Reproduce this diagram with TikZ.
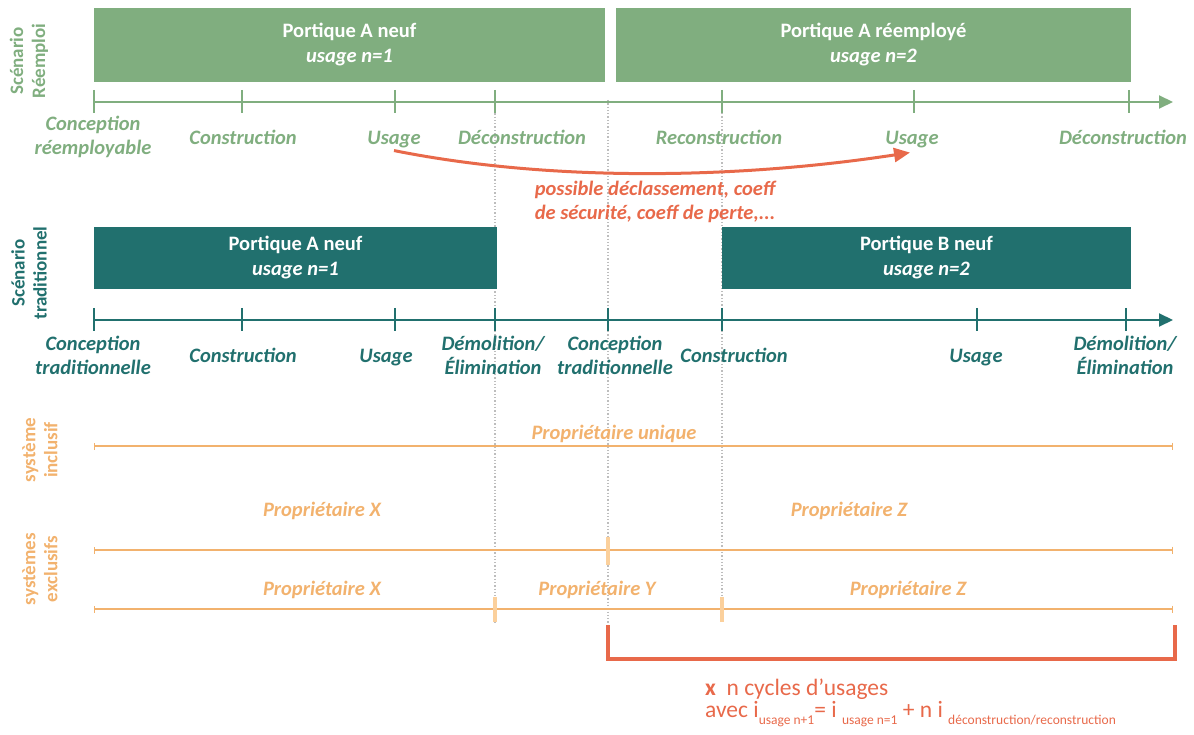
\documentclass[tikz,border=0pt]{standalone}
\usepackage{fontspec}
\setmainfont{Carlito}
\usetikzlibrary{positioning,arrows.meta,calc}

\definecolor{vertR}{HTML}{80AE7F}
\definecolor{tealT}{HTML}{21706E}
\definecolor{corail}{HTML}{E8694A}
\definecolor{orangeP}{HTML}{F2B26E}
\definecolor{orangeC}{HTML}{FBD09C}
\definecolor{grisP}{HTML}{BDBDBD}

\newcommand{\indice}[1]{\raisebox{-7pt}{\fontsize{13.5}{14}\selectfont #1}}

\begin{document}
\begin{tikzpicture}[x=1pt, y=-1pt,
  barre/.style={inner sep=0pt, align=center, text=white,
                font=\fontsize{20.5}{25}\selectfont\bfseries},
  etiq/.style={align=center, inner sep=1pt, font=\fontsize{20.5}{24}\selectfont\bfseries\itshape},
  titre/.style={rotate=90, align=center, inner sep=0pt,
                font=\fontsize{19}{22}\selectfont\bfseries},
  axe/.style={line width=2pt, -{Triangle[length=14pt, width=13pt]}},
  tick/.style={line width=2.5pt},
  possession/.style={orangeP, line width=1.8pt, {Bar[width=7pt, line width=1pt]}-{Bar[width=7pt, line width=1pt]}},
  coupure/.style={orangeC, line width=4pt},
  pointille/.style={grisP, line width=1.3pt, dotted},
  fleche/.style={corail, line width=3pt, -{Triangle[length=16pt, width=14pt]}}
]
\useasboundingbox (0,0) rectangle (1194,735);

% reperes verticaux
\draw[pointille] (495,110) -- (495,622);
\draw[pointille] (608,100) -- (608,625);
\draw[pointille] (722,113) -- (722,622);

% scenario reemploi
\node[titre, vertR] (tR) at (29,61) {Scénario\\Réemploi};
\node[barre, fill=vertR, minimum width=511pt, minimum height=74pt] (pA1) at (349.5,45) {Portique A neuf\\\textit{usage n=1}};
\node[barre, fill=vertR, minimum width=515pt, minimum height=74pt] (pA2) at (873.5,45) {Portique A réemployé\\\textit{usage n=2}};
\coordinate (aR0) at (94,102);
\coordinate (aR1) at (1173,102);
\draw[axe, vertR] (aR0) -- (aR1);
\foreach \x in {94,242,395,495,722,914,1129}
  \draw[tick, vertR] (\x,90) -- (\x,113);
\node[etiq, vertR] (crR) at (93,137) {Conception\\réemployable};
\node[etiq, vertR] (coR) at (243,137) {Construction};
\node[etiq, vertR] (u1) at (394,140) {Usage};
\node[etiq, vertR] (dR1) at (522,137) {Déconstruction};
\node[etiq, vertR] (reR) at (719,137) {Reconstruction};
\node[etiq, vertR] (u2) at (912,140) {Usage};
\node[etiq, vertR] (dR2) at (1123,137) {Déconstruction};

% passage d'un usage a l'autre
\draw[fleche] ($(u1.south)+(0,1)$) .. controls +(160,32) and +(-170,26) .. ($(u2.south)+(-2,3)$);
\node[etiq, corail] (declass) at (655,202) {possible déclassement, coeff\\de sécurité, coeff de perte,...};

% scenario traditionnel
\node[titre, tealT] (tT) at (29,273) {Scénario\\traditionnel};
\node[barre, fill=tealT, minimum width=403pt, minimum height=62pt] (pT1) at (295.5,258) {Portique A neuf\\\textit{usage n=1}};
\node[barre, fill=tealT, minimum width=409pt, minimum height=62pt] (pT2) at (926.5,258) {Portique B neuf\\\textit{usage n=2}};
\coordinate (aT0) at (94,320);
\coordinate (aT1) at (1173,320);
\draw[axe, tealT] (aT0) -- (aT1);
\foreach \x in {94,242,395,495,608,722,977,1126}
  \draw[tick, tealT] (\x,308) -- (\x,331);
\node[etiq, tealT] (ctT1) at (93,355) {Conception\\traditionnelle};
\node[etiq, tealT] (coT1) at (243,355) {Construction};
\node[etiq, tealT] (usT1) at (386,358) {Usage};
\node[etiq, tealT] (deT1) at (493,355) {Démolition/\\Élimination};
\node[etiq, tealT] (ctT2) at (615,355) {Conception\\traditionnelle};
\node[etiq, tealT] (coT2) at (734,355) {Construction};
\node[etiq, tealT] (usT2) at (976,358) {Usage};
\node[etiq, tealT] (deT2) at (1125,355) {Démolition/\\Élimination};

% proprietaires
\node[titre, orangeP] (sInc) at (40,450) {système\\inclusif};
\node[titre, orangeP] (sExc) at (40,569) {systèmes\\exclusifs};
\coordinate (pU0) at (94,446);
\coordinate (pU1) at (1173,446);
\draw[possession] (pU0) -- (pU1);
\node[etiq, orangeP] (pu) at (614,434) {Propriétaire unique};
\coordinate (pE0) at (94,550);
\coordinate (pE1) at (1173,550);
\draw[possession] (pE0) -- (pE1);
\draw[coupure] (608,537) -- (608,565);
\node[etiq, orangeP] (px1) at (322,511) {Propriétaire X};
\node[etiq, orangeP] (pz1) at (849,511) {Propriétaire Z};
\coordinate (pF0) at (94,609);
\coordinate (pF1) at (1173,609);
\draw[possession] (pF0) -- (pF1);
\draw[coupure] (495,597) -- (495,622);
\draw[coupure] (722,597) -- (722,622);
\node[etiq, orangeP] (px2) at (322,590) {Propriétaire X};
\node[etiq, orangeP] (py2) at (597,590) {Propriétaire Y};
\node[etiq, orangeP] (pz2) at (908,590) {Propriétaire Z};

% cycles
\coordinate (b0) at (608,625);
\coordinate (b1) at (1175,625);
\draw[corail, line width=3.5pt] (b0) -- (b0 |- 0,659) -- (b1 |- 0,659) -- (b1);
\node[anchor=west, corail, inner sep=0pt, font=\fontsize{23.5}{25}\selectfont] (cyc) at (705,689) {\textbf{x}\ \ n cycles d’usages};
\node[anchor=west, corail, inner sep=0pt, font=\fontsize{23.5}{25}\selectfont] (avec) at (705,714) {avec i\indice{usage n+1}= i \indice{usage n=1} + n i \indice{déconstruction/reconstruction}};
\end{tikzpicture}
\end{document}
